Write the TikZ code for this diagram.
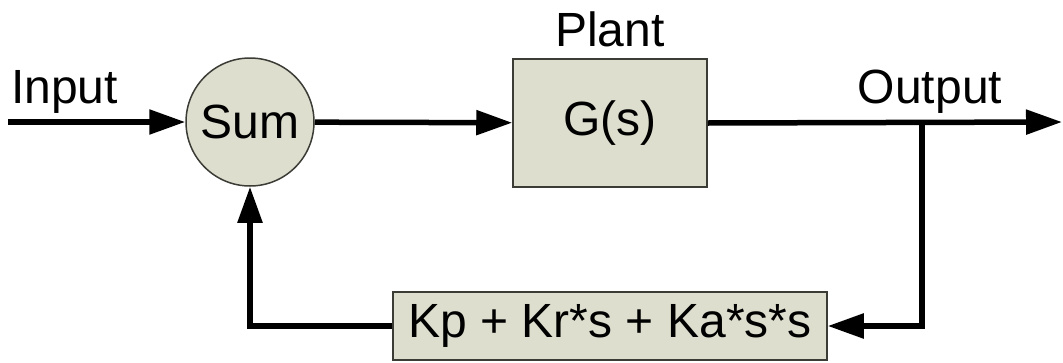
\documentclass[tikz,border=0pt]{standalone}
\usepackage{fontspec}
\setmainfont{Liberation Sans}
\usetikzlibrary{arrows.meta}

\definecolor{blockfill}{RGB}{221,222,206}
\definecolor{blockline}{RGB}{60,60,55}

\tikzset{
    block/.style={draw=blockline, line width=1.5pt, fill=blockfill, inner sep=0pt},
    sig/.style={line width=5.5pt, -{Triangle[length=36pt,width=24pt]}},
    lbl/.style={inner sep=0pt, anchor=base}
}

\begin{document}
\begin{tikzpicture}[x=1pt, y=1pt, font=\fontsize{48}{56}\selectfont]
    \useasboundingbox (0,0) rectangle (1063,-362);

    % Blocks
    \node[block, circle, minimum size=128pt] (sum) at (250,-122) {Sum};
    \node[block, rectangle, minimum width=194pt, minimum height=128pt] (plant) at (610,-123) {G(s)};
    \node[block, rectangle, minimum width=434pt, minimum height=68pt] (fb) at (610,-326) {Kp + Kr*s + Ka*s*s};

    % Labels
    \node[lbl] (plantlbl) at ([yshift=12pt]plant.north) {Plant};
    \node[lbl, anchor=base west] (inlbl) at (11,-103) {Input};
    \node[lbl] (outlbl) at (930,-103) {Output};

    % Signal ends
    \coordinate (in) at (8,-122);
    \coordinate (out) at (1062,-122);
    \coordinate (branch) at (922,-122);

    % Forward path
    \draw[sig] (in) -- (sum);
    \draw[sig] (sum) -- (plant);
    \draw[sig] (plant.east) -- (out);

    % Feedback path
    \draw[sig] (branch) |- (fb);
    \draw[sig] (fb) -| (sum);
\end{tikzpicture}
\end{document}
